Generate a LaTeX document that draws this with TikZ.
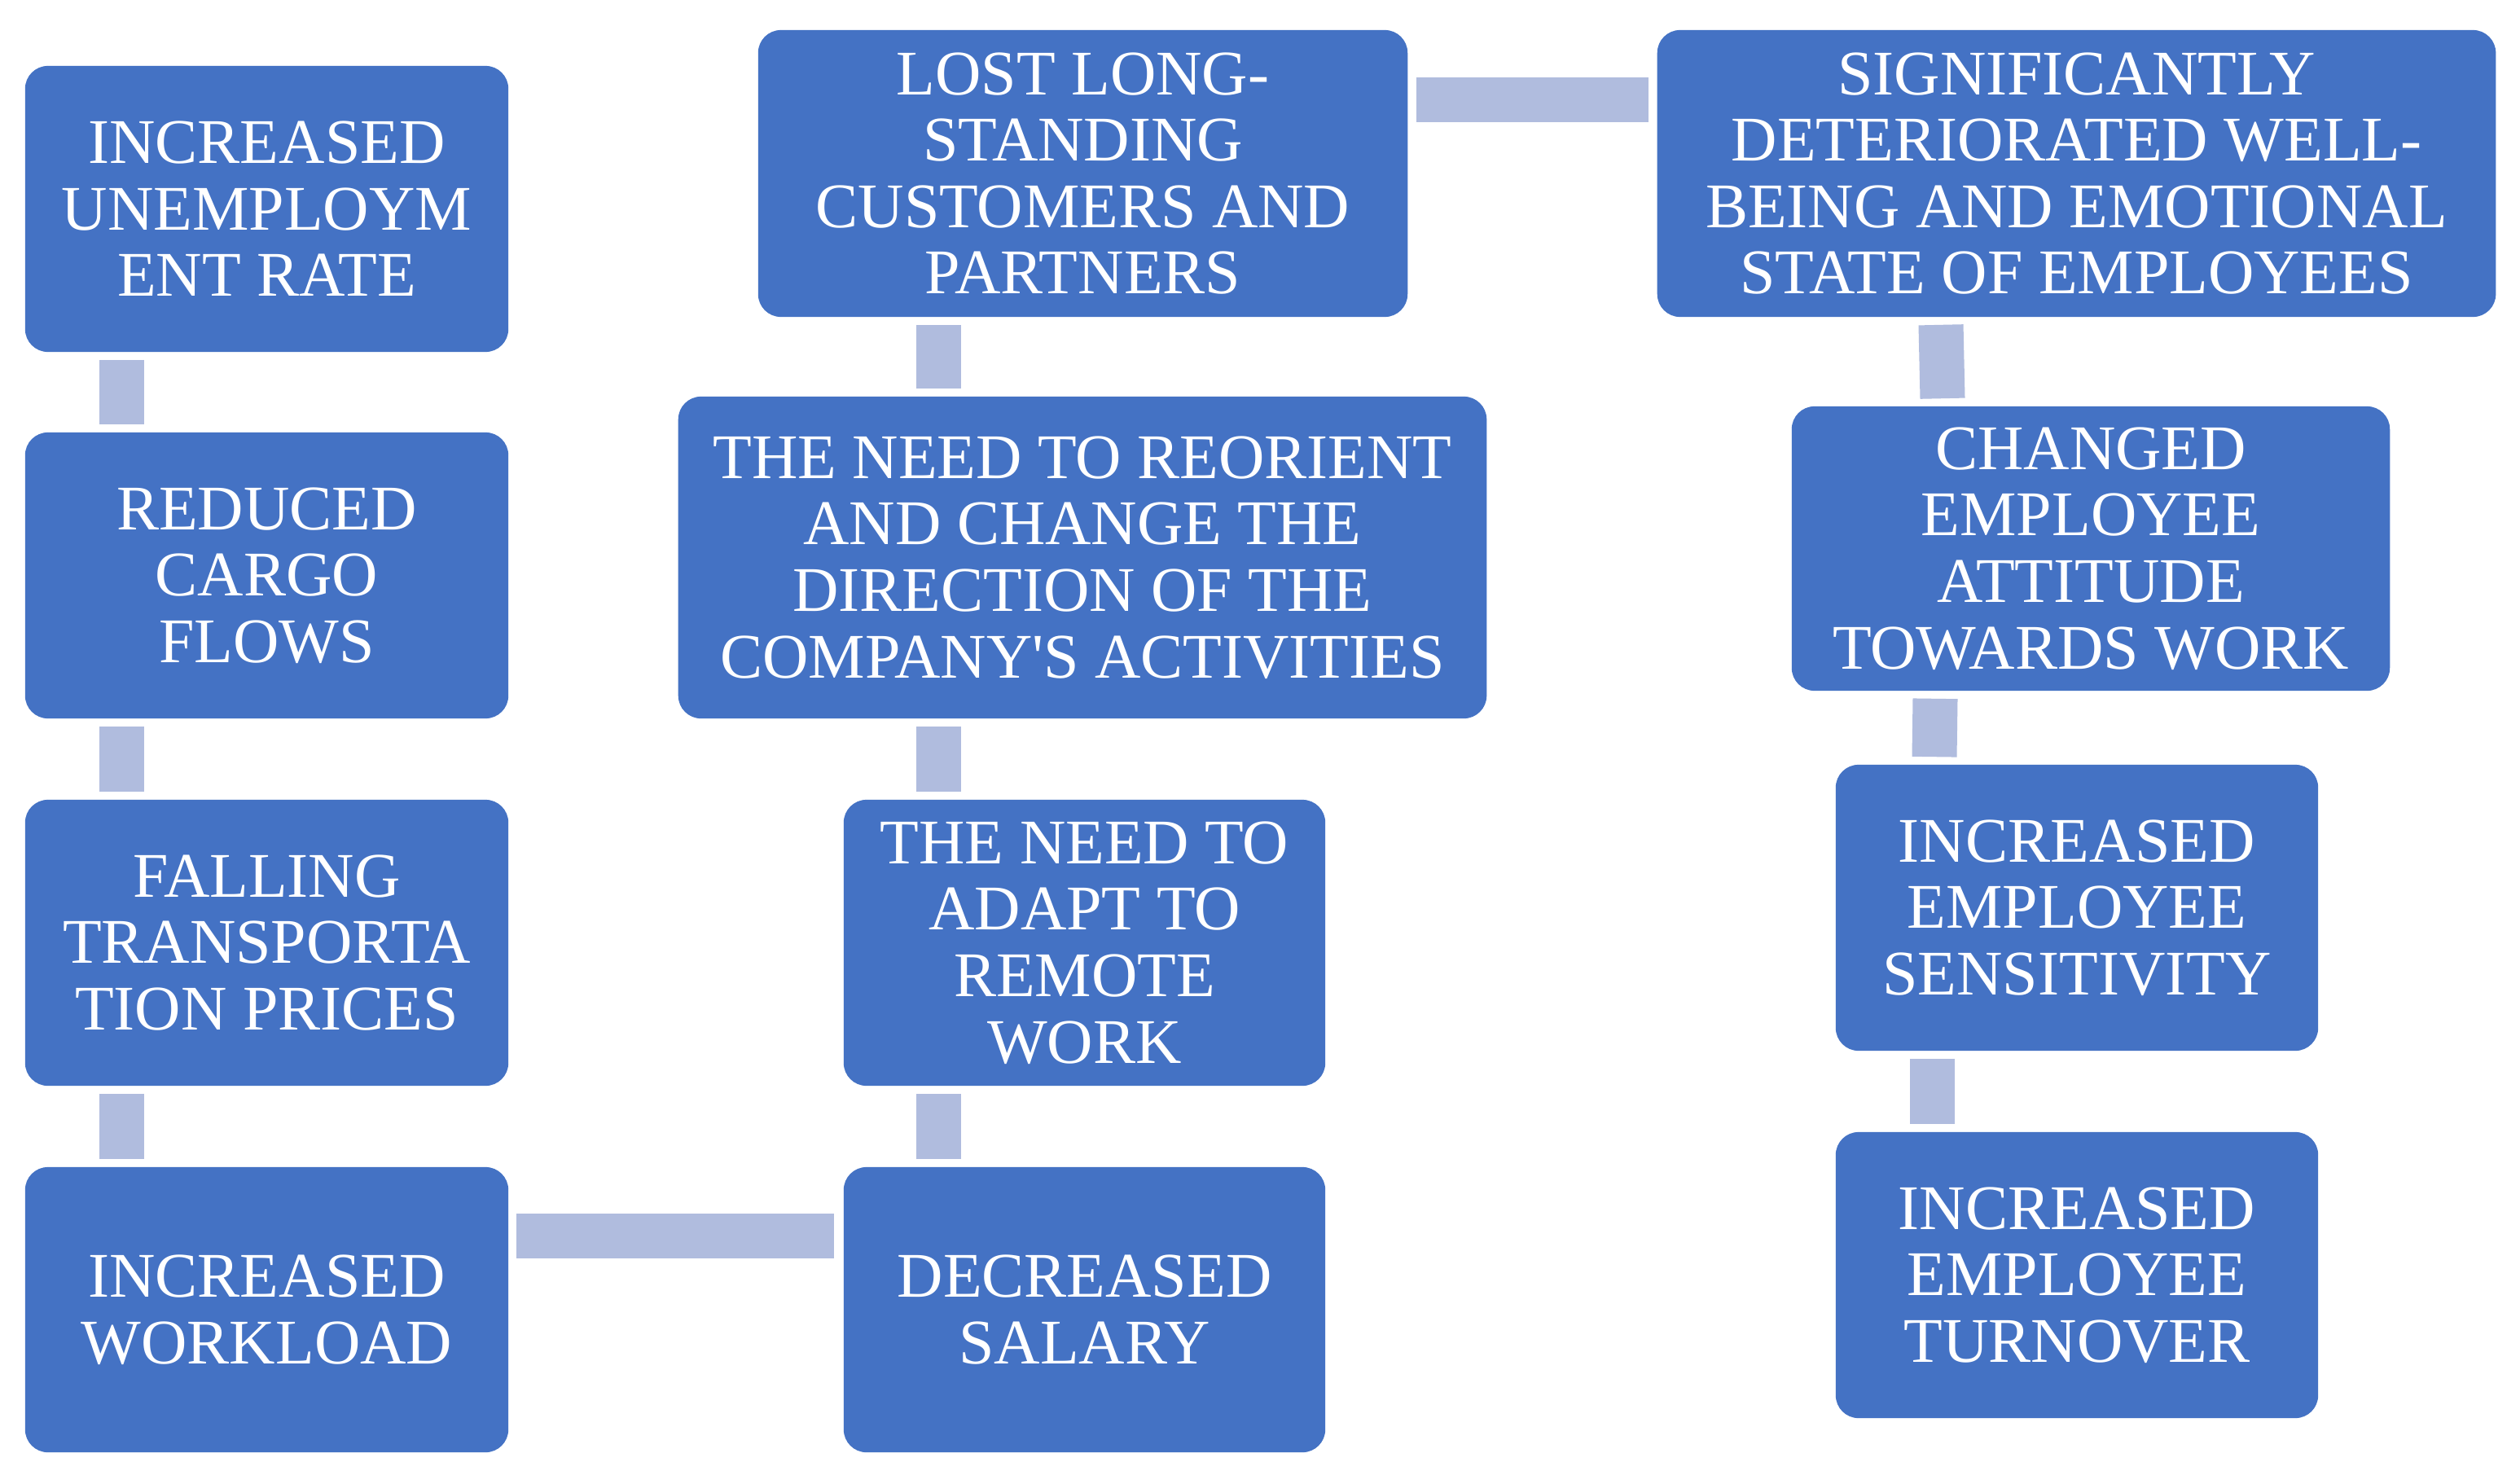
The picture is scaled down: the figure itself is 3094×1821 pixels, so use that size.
\documentclass[tikz,border=0pt]{standalone}
\usepackage{fontspec}
\setmainfont{Liberation Serif}
\usetikzlibrary{calc}
\definecolor{boxblue}{RGB}{68,114,196}
\definecolor{barblue}{RGB}{176,188,222}
\begin{document}
\begin{tikzpicture}[x=0.01cm,y=-0.01cm,
  box/.style={fill=boxblue, rounded corners=0.28cm, text=white, align=center, inner sep=0pt,
    font=\fontsize{22.2}{23.2}\selectfont},
  vbar/.style={draw=barblue, line width=0.55cm},
  hbar/.style={draw=barblue, line width=0.55cm}]
\useasboundingbox[fill=white] (0,0) rectangle (3094,1821);
% column 1
\node[box, minimum width=5.93cm, minimum height=3.51cm] (A) at (327.5,256.5) {INCREASED\\UNEMPLOYM\\ENT RATE};
\node[box, minimum width=5.93cm, minimum height=3.51cm] (B) at (327.5,706.5) {REDUCED\\CARGO\\FLOWS};
\node[box, minimum width=5.93cm, minimum height=3.51cm] (C) at (327.5,1157.5) {FALLING\\TRANSPORTA\\TION PRICES};
\node[box, minimum width=5.93cm, minimum height=3.50cm] (D) at (327.5,1608) {INCREASED\\WORKLOAD};
% column 2
\node[box, minimum width=5.91cm, minimum height=3.50cm] (E) at (1331.5,1608) {DECREASED\\SALARY};
\node[box, minimum width=5.91cm, minimum height=3.51cm] (F) at (1331.5,1157.5) {THE NEED TO\\ADAPT TO\\REMOTE\\WORK};
\node[box, minimum width=9.92cm, minimum height=3.95cm] (G) at (1329,684.5) {THE NEED TO REORIENT\\AND CHANGE THE\\DIRECTION OF THE\\COMPANY\textquotesingle S ACTIVITIES};
\node[box, minimum width=7.97cm, minimum height=3.52cm] (H) at (1329.5,213) {LOST LONG-\\STANDING\\CUSTOMERS AND\\PARTNERS};
% column 3
\node[box, minimum width=10.29cm, minimum height=3.52cm] (I) at (2549.5,213) {SIGNIFICANTLY\\DETERIORATED WELL-\\BEING AND EMOTIONAL\\STATE OF EMPLOYEES};
\node[box, minimum width=7.34cm, minimum height=3.49cm] (J) at (2567,673.5) {CHANGED\\EMPLOYEE\\ATTITUDE\\TOWARDS WORK};
\node[box, minimum width=5.92cm, minimum height=3.51cm] (K) at (2550,1114.5) {INCREASED\\EMPLOYEE\\SENSITIVITY};
\node[box, minimum width=5.92cm, minimum height=3.51cm] (L) at (2550,1565.5) {INCREASED\\EMPLOYEE\\TURNOVER};
% connectors column 1
\draw[vbar] ($(A.south)+(-178,9)$) -- ($(B.north)+(-178,-9)$);
\draw[vbar] ($(B.south)+(-178,9)$) -- ($(C.north)+(-178,-9)$);
\draw[vbar] ($(C.south)+(-178,9)$) -- ($(D.north)+(-178,-9)$);
% bottom link
\draw[hbar] ($(D.east)+(9,-90.5)$) -- ($(E.west)+(-11,-90.5)$);
% connectors column 2
\draw[vbar] ($(E.north)+(-179.5,-9)$) -- ($(F.south)+(-179.5,9)$);
\draw[vbar] ($(F.north)+(-179.5,-9)$) -- ($(G.south)+(-177,9)$);
\draw[vbar] ($(G.north)+(-177,-9)$) -- ($(H.south)+(-177.5,9)$);
% top link
\draw[hbar] ($(H.east)+(10,-90.5)$) -- ($(I.west)+(-10,-90.5)$);
% connectors column 3
\draw[vbar] ($(I.south)+(-166.5,9)$) -- ($(J.north)+(-182,-9)$);
\draw[vbar] ($(J.south)+(-191,9)$) -- ($(K.north)+(-175,-9)$);
\draw[vbar] ($(K.south)+(-177.5,9)$) -- ($(L.north)+(-177.5,-9)$);
\end{tikzpicture}
\end{document}
